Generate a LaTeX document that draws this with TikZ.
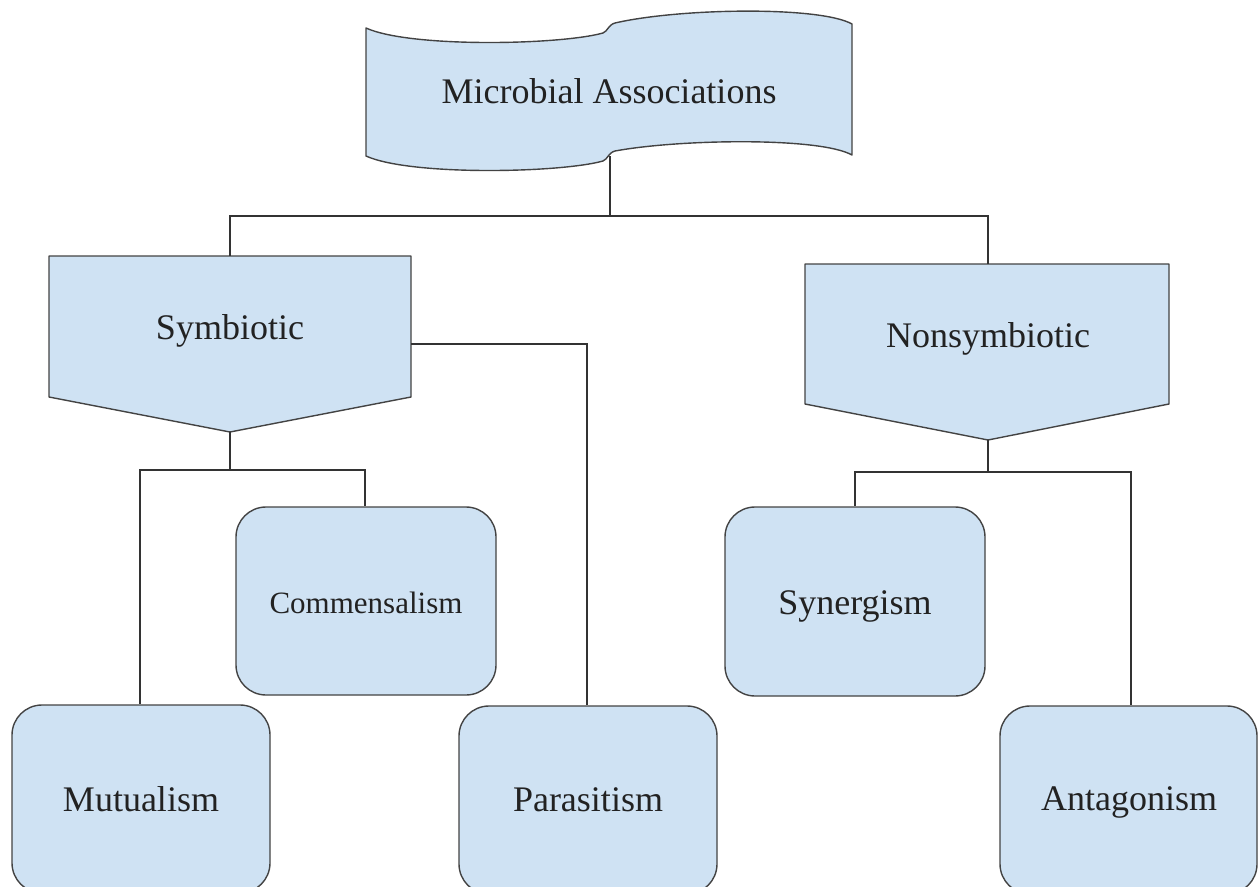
\documentclass[tikz,border=0pt]{standalone}
\usepackage{fontspec}
\setmainfont{Liberation Serif}
\definecolor{fillb}{HTML}{CFE2F3}
\definecolor{edgec}{HTML}{434343}
\definecolor{connc}{HTML}{333333}
\definecolor{txtc}{HTML}{222222}
\begin{document}
\begin{tikzpicture}[x=1pt,y=-1pt,
  shapeline/.style={draw=edgec, line width=1.4pt, fill=fillb, line join=round},
  rbox/.style={shapeline, rectangle, rounded corners=30pt, inner sep=0pt},
  lbl/.style={anchor=base, inner sep=0pt, font=\fontsize{36}{40}\selectfont, text=txtc},
  smalllbl/.style={lbl, font=\fontsize{31}{36}\selectfont},
  conline/.style={draw=connc, line width=1.4pt}]
\useasboundingbox (0,0) rectangle (1258,886);
\clip (0,0) rectangle (1258,886);

% ---- banner (wave) ----
\path[shapeline] (366,28) .. controls (410,48) and (560,45) .. (603,33)
  .. controls (608,31) and (608,25) .. (615,23)
  .. controls (680,8) and (820,6) .. (852,24)
  -- (852,155)
  .. controls (820,137) and (680,139) .. (615,151)
  .. controls (608,153) and (608,159) .. (603,161)
  .. controls (560,173) and (410,176) .. (366,156) -- cycle;
\coordinate (banbot) at (610,156);
\node[lbl] (tMA) at (609,103) {Microbial Associations};

% ---- pentagons ----
\path[shapeline] (49,256) -- (411,256) -- (411,397) -- (230,432) -- (49,397) -- cycle;
\coordinate (symtop) at (230,256);
\coordinate (symbot) at (230,432);
\coordinate (symright) at (411,344);
\node[lbl] (tSym) at (230,339) {Symbiotic};

\path[shapeline] (805,264) -- (1169,264) -- (1169,404) -- (988,440) -- (805,404) -- cycle;
\coordinate (nstop) at (988,264);
\coordinate (nsbot) at (988,440);
\node[lbl] (tNS) at (988,347) {Nonsymbiotic};

% ---- rounded boxes ----
\node[rbox, minimum width=258pt, minimum height=188pt] (mut) at (141,799) {};
\node[rbox, minimum width=260pt, minimum height=188pt] (com) at (366,601) {};
\node[rbox, minimum width=258pt, minimum height=188pt] (par) at (588,800) {};
\node[rbox, minimum width=260pt, minimum height=189pt] (syn) at (855,601.5) {};
\node[rbox, minimum width=257pt, minimum height=188pt] (ant) at (1128.5,800) {};

\node[lbl] (tMut) at (141,811) {Mutualism};
\node[smalllbl] (tCom) at (366,613) {Commensalism};
\node[lbl] (tPar) at (588,811) {Parasitism};
\node[lbl] (tSyn) at (855,614) {Synergism};
\node[lbl] (tAnt) at (1129,810) {Antagonism};

% ---- connectors ----
\coordinate (j0) at (610,216);
\draw[conline] (banbot) -- (j0);
\draw[conline] (j0) -| (symtop);
\draw[conline] (j0) -| (nstop);

\coordinate (j1) at (230,470);
\draw[conline] (symbot) -- (j1);
\draw[conline] (j1) -| ([xshift=-1pt]mut.north);
\draw[conline] (j1) -| ([xshift=-1pt]com.north);

\coordinate (j2) at (587,344);
\draw[conline] (symright) -- (j2) -- ([xshift=-1pt]par.north);

\coordinate (j3) at (988,472);
\draw[conline] (nsbot) -- (j3);
\draw[conline] (j3) -| (syn.north);
\draw[conline] (j3) -| ([xshift=2.5pt]ant.north);
\end{tikzpicture}
\end{document}
